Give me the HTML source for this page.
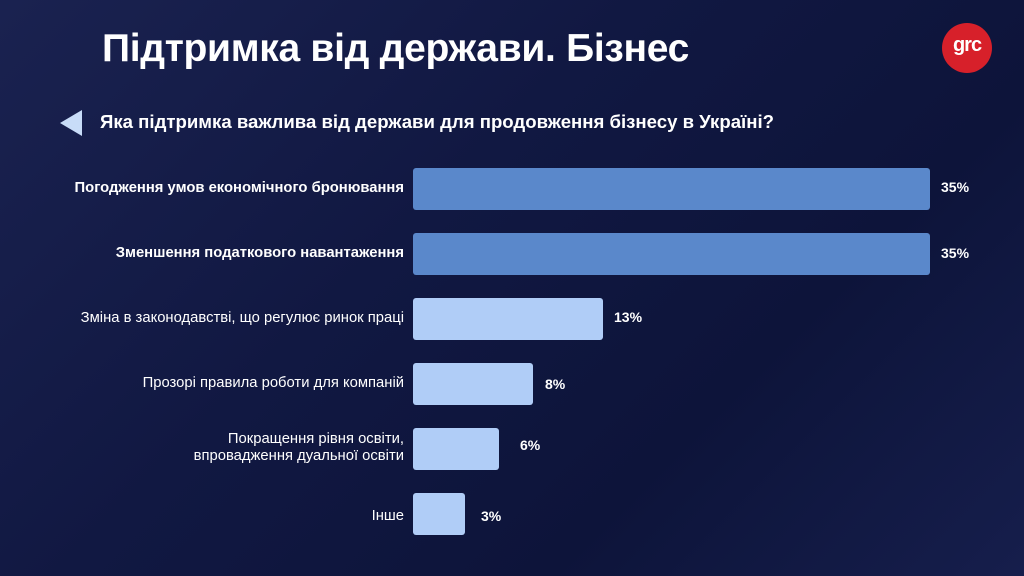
<!DOCTYPE html>
<html><head><meta charset="utf-8"><style>
body{margin:0;width:1024px;height:576px;overflow:hidden;font-family:"Liberation Sans","DejaVu Sans",sans-serif;}
.bg{position:absolute;left:0;top:0;width:1024px;height:576px;background:linear-gradient(135deg,#1a2250 0%,#111842 40%,#0d143a 70%,#161e4c 100%);}
.t{position:absolute;color:#fff;white-space:nowrap}
.bar{position:absolute;left:413px;height:42px;border-radius:3px}
.d{background:#5a88cb}.l{background:#b0cdf7}
.lab{position:absolute;right:620px;color:#fff;font-size:14.8px;text-align:right;line-height:17px;white-space:nowrap}
.v{position:absolute;color:#fff;font-size:14px;font-weight:bold}
</style></head><body>
<div class="bg"></div>
<div class="t" style="left:102px;top:27px;font-size:39px;font-weight:bold;letter-spacing:-0.3px">Підтримка від держави. Бізнес</div>
<div style="position:absolute;left:942px;top:23px;width:50px;height:50px;border-radius:50%;background:#d7202a"></div>
<div class="t" style="left:942px;top:34px;width:50px;text-align:center;font-size:20px;font-weight:bold;letter-spacing:-1px">grc</div>
<div style="position:absolute;left:60px;top:110px;width:0;height:0;border-top:13px solid transparent;border-bottom:13px solid transparent;border-right:22px solid #c8dcf8"></div>
<div class="t" style="left:100px;top:111px;font-size:18.6px;font-weight:bold">Яка підтримка важлива від держави для продовження бізнесу в Україні?</div>

<div class="bar d" style="top:168px;width:517px"></div>
<div class="bar d" style="top:233px;width:517px"></div>
<div class="bar l" style="top:298px;width:190px"></div>
<div class="bar l" style="top:363px;width:120px"></div>
<div class="bar l" style="top:428px;width:86px"></div>
<div class="bar l" style="top:493px;width:52px"></div>

<div class="lab" style="top:180px;font-weight:bold">Погодження умов економічного бронювання</div>
<div class="lab" style="top:245px;font-weight:bold">Зменшення податкового навантаження</div>
<div class="lab" style="top:310px">Зміна в законодавстві, що регулює ринок праці</div>
<div class="lab" style="top:375px">Прозорі правила роботи для компаній</div>
<div class="lab" style="top:431px">Покращення рівня освіти,<br>впровадження дуальної освіти</div>
<div class="lab" style="top:508px">Інше</div>

<div class="v" style="left:941px;top:179px">35%</div>
<div class="v" style="left:941px;top:245px">35%</div>
<div class="v" style="left:614px;top:309px">13%</div>
<div class="v" style="left:545px;top:376px">8%</div>
<div class="v" style="left:520px;top:437px">6%</div>
<div class="v" style="left:481px;top:508px">3%</div>
</body></html>
